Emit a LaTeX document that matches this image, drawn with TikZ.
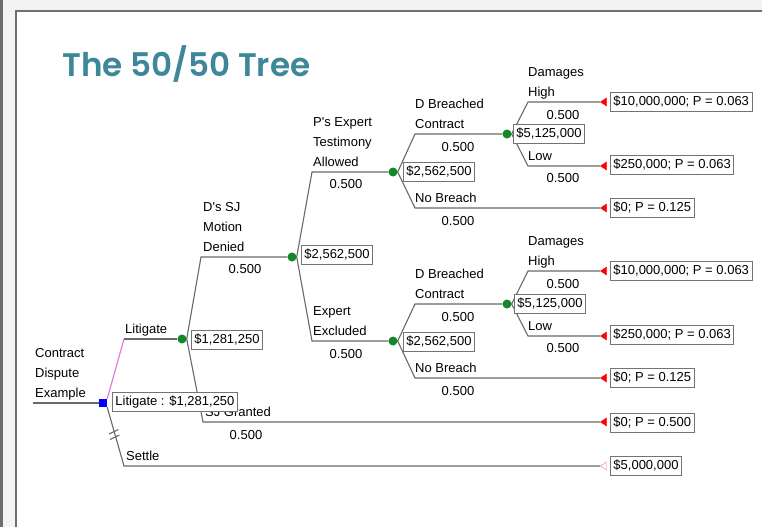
\documentclass[tikz,border=0pt]{standalone}
\usepackage{fontspec}
\setmainfont{Liberation Sans}
\IfFontExistsTF{Poppins SemiBold}
  {\newfontfamily\titlefont{Poppins SemiBold}}
  {\IfFontExistsTF{Poppins Medium}
    {\newfontfamily\titlefont{Poppins Medium}}
    {\newfontfamily\titlefont[FakeBold=3]{Poppins}}}
\usetikzlibrary{shapes.geometric}

\definecolor{branch}{RGB}{105,105,105}
\definecolor{boxline}{RGB}{115,115,115}
\definecolor{titleteal}{RGB}{62,134,154}
\definecolor{chance}{RGB}{20,135,40}
\definecolor{pickline}{RGB}{228,112,218}
\definecolor{panelbg}{RGB}{243,243,243}
\definecolor{edgestrip}{RGB}{110,110,110}

\pgfdeclarelayer{bg}
\pgfdeclarelayer{lines}
\pgfsetlayers{bg,lines,main}

\begin{document}
\begin{tikzpicture}[x=1pt,y=-1pt,
  every node/.style={font=\fontsize{13}{20}\selectfont},
  branchline/.style={draw=branch, line width=1.1pt},
  chosenline/.style={draw=pickline, line width=1.1pt},
  chancenode/.style={circle, fill=chance, inner sep=0pt, minimum size=9pt},
  decisionnode/.style={rectangle, fill=blue, inner sep=0pt, minimum size=8pt},
  endnode/.style={isosceles triangle, shape border rotate=180, isosceles triangle stretches,
    fill=red, draw=red, line width=0.4pt, inner sep=0pt, minimum height=6pt, minimum width=8pt, anchor=apex},
  settleend/.style={endnode, fill=white, draw=red!55},
  valbox/.style={draw=boxline, line width=0.9pt, fill=white, inner xsep=3pt, inner ysep=0pt,
    minimum height=19pt, text height=9.5pt, text depth=2.5pt, anchor=west},
  lbl/.style={anchor=south west, inner sep=0pt, text depth=0pt, align=left},
  prob/.style={anchor=base, inner sep=0pt},
]
\useasboundingbox (0,0) rectangle (762,527);

% page frame
\begin{pgfonlayer}{bg}
  \fill[panelbg] (0,0) rectangle (762,527);
  \fill[white] (16,11) rectangle (762,527);
  \draw[draw=edgestrip, line width=1.2pt] (16,527) -- (16,11) -- (762,11);
  \fill[edgestrip] (0,0) rectangle (3,527);
\end{pgfonlayer}

% title
\node[anchor=base west, inner sep=0pt, text=titleteal,
  font=\titlefont\fontsize{32.6}{38}\selectfont] (ttl) at (62,76) {The 50/50 Tree};

% decision and chance nodes
\node[decisionnode] (root) at (103,403) {};
\node[chancenode] (c1) at (182,339) {};
\node[chancenode] (c2) at (292,257) {};
\node[chancenode] (c3) at (393,172) {};
\node[chancenode] (c4) at (507,134) {};
\node[chancenode] (c5) at (393,341) {};
\node[chancenode] (c6) at (507,304) {};

% terminal markers
\node[endnode] (t1) at (600,102) {};
\node[endnode] (t2) at (600,166) {};
\node[endnode] (t3) at (600,208) {};
\node[endnode] (t4) at (600,271) {};
\node[endnode] (t5) at (600,336) {};
\node[endnode] (t6) at (600,378) {};
\node[endnode] (t7) at (600,422) {};
\node[settleend] (t8) at (600,466) {};

% elbows of the branches
\coordinate (rin) at (33,403);
\coordinate (eLit) at (124,339);
\coordinate (eSet) at (124,466);
\coordinate (eDen) at (201,257);
\coordinate (eGr) at (203,422);
\coordinate (eAll) at (312,172);
\coordinate (eExc) at (312,341);
\coordinate (eB1) at (415,134);
\coordinate (eN1) at (415,208);
\coordinate (eH1) at (528,102);
\coordinate (eL1) at (528,166);
\coordinate (eB2) at (415,304);
\coordinate (eN2) at (415,378);
\coordinate (eH2) at (528,271);
\coordinate (eL2) at (528,336);

% branches
\begin{pgfonlayer}{lines}
  \draw[branchline] (rin) -- (root.west);
  \draw[chosenline] (root.north east) -- (eLit);
  \draw[branchline] (eLit) -- (c1);
  \draw[branchline] (root.south east) -- (eSet) -- (t8.apex);
  \draw[branchline] (c1.east) -- (eDen) -- (c2);
  \draw[branchline] (c1.east) -- (eGr) -- (t7.apex);
  \draw[branchline] (c2.east) -- (eAll) -- (c3);
  \draw[branchline] (c2.east) -- (eExc) -- (c5);
  \draw[branchline] (c3.east) -- (eB1) -- (c4);
  \draw[branchline] (c3.east) -- (eN1) -- (t3.apex);
  \draw[branchline] (c4.east) -- (eH1) -- (t1.apex);
  \draw[branchline] (c4.east) -- (eL1) -- (t2.apex);
  \draw[branchline] (c5.east) -- (eB2) -- (c6);
  \draw[branchline] (c5.east) -- (eN2) -- (t6.apex);
  \draw[branchline] (c6.east) -- (eH2) -- (t4.apex);
  \draw[branchline] (c6.east) -- (eL2) -- (t5.apex);
  % the settle branch is cut
  \draw[branchline, line width=1.1pt] (109,434) -- (118.5,429.5);
  \draw[branchline, line width=1.1pt] (110,439.5) -- (119.5,435);
\end{pgfonlayer}

% branch names
\node[lbl] (lRoot) at (35,398) {Contract\\Dispute\\Example};
\node[lbl] (lLit) at (125,334) {Litigate};
\node[lbl] (lSet) at (126,461) {Settle};
\node[lbl] (lDen) at (203,252) {D\textquotesingle s SJ\\Motion\\Denied};
\node[lbl] (lGr) at (205,417) {SJ Granted};
\node[lbl] (lAll) at (313,167) {P\textquotesingle s Expert\\Testimony\\Allowed};
\node[lbl] (lExc) at (313,336) {Expert\\Excluded};
\node[lbl] (lB1) at (415,129) {D Breached\\Contract};
\node[lbl] (lN1) at (415,203) {No Breach};
\node[lbl] (lH1) at (528,97) {Damages\\High};
\node[lbl] (lL1) at (528,161) {Low};
\node[lbl] (lB2) at (415,299) {D Breached\\Contract};
\node[lbl] (lN2) at (415,373) {No Breach};
\node[lbl] (lH2) at (528,266) {Damages\\High};
\node[lbl] (lL2) at (528,331) {Low};

% probabilities
\node[prob] (pDen) at (245,273) {0.500};
\node[prob] (pGr) at (246,439) {0.500};
\node[prob] (pAll) at (346,188) {0.500};
\node[prob] (pExc) at (346,358) {0.500};
\node[prob] (pB1) at (458,151) {0.500};
\node[prob] (pN1) at (458,225) {0.500};
\node[prob] (pH1) at (563,119) {0.500};
\node[prob] (pL1) at (563,182) {0.500};
\node[prob] (pB2) at (458,321) {0.500};
\node[prob] (pN2) at (458,395) {0.500};
\node[prob] (pH2) at (563,288) {0.500};
\node[prob] (pL2) at (563,352) {0.500};

% expected values
\node[valbox] (v1) at (191,340) {\$1,281,250};
\node[valbox] (v2) at (301,255) {\$2,562,500};
\node[valbox] (v3) at (403,172) {\$2,562,500};
\node[valbox] (v4) at (513,134) {\$5,125,000};
\node[valbox] (v5) at (403,342) {\$2,562,500};
\node[valbox] (v6) at (514,304) {\$5,125,000};
\node[valbox] (vRoot) at (112,402) {Litigate : \$1,281,250};

% payoffs
\node[valbox] (b1) at (610,102) {\$10,000,000; P = 0.063};
\node[valbox] (b2) at (610,165) {\$250,000; P = 0.063};
\node[valbox] (b3) at (610,208) {\$0; P = 0.125};
\node[valbox] (b4) at (610,271) {\$10,000,000; P = 0.063};
\node[valbox] (b5) at (610,335) {\$250,000; P = 0.063};
\node[valbox] (b6) at (610,378) {\$0; P = 0.125};
\node[valbox] (b7) at (610,423) {\$0; P = 0.500};
\node[valbox] (b8) at (610,466) {\$5,000,000};
\end{tikzpicture}
\end{document}
